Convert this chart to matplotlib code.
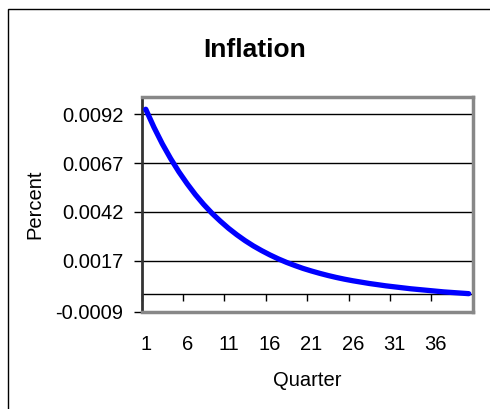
import matplotlib.pyplot as plt
from matplotlib.patches import Rectangle

plt.rcParams['font.family'] = ['Liberation Sans', 'DejaVu Sans']

# quarters 1..40 and inflation
quarters = list(range(1, 41))
inflation = [0.00945, 0.00852, 0.00768, 0.00693, 0.00625, 0.00564, 0.00508, 0.00458,
             0.00413, 0.00373, 0.00336, 0.00303, 0.00273, 0.00246, 0.00222, 0.00200,
             0.00180, 0.00162, 0.00146, 0.00131, 0.00118, 0.00106, 0.00095, 0.00085,
             0.00076, 0.00068, 0.00061, 0.00054, 0.00048, 0.00042, 0.00037, 0.00032,
             0.00027, 0.00023, 0.00019, 0.00015, 0.00011, 0.00008, 0.00005, 0.00002]

y_ticks = [-0.0009, 0.0017, 0.0042, 0.0067, 0.0092]
y_labels = ['-0.0009', '0.0017', '0.0042', '0.0067', '0.0092']
x_label_quarters = [1, 6, 11, 16, 21, 26, 31, 36]
y_min, y_max = -0.0009, 0.0101

fig = plt.figure(figsize=(4.9, 4.09), dpi=100)
ax = fig.add_axes([0.289, 0.238, 0.676, 0.526])

# outer chart frame, runs off the right and bottom edges
fig.patches.append(Rectangle((8.3 / 490, -0.1), 1.2, 1.1 - 9.3 / 409,
                             transform=fig.transFigure, fill=False,
                             edgecolor='black', linewidth=1.0))

for v in y_ticks[1:]:
    ax.axhline(v, color='black', linewidth=1.0, zorder=1)

ax.plot(quarters, inflation, color='#0000ff', linewidth=3.8, solid_capstyle='round', zorder=3)

ax.set_xlim(0.5, 40.5)
ax.set_ylim(y_min, y_max)

ax.set_yticks(y_ticks)
ax.set_yticklabels(y_labels)
ax.set_xticks(x_label_quarters)
ax.set_xticklabels([str(q) for q in x_label_quarters])
ax.tick_params(axis='y', direction='out', length=6, width=1, pad=7, labelsize=14.5)
ax.tick_params(axis='x', length=0, pad=17, labelsize=14.5)

for side in ['top', 'right', 'bottom']:
    ax.spines[side].set_color('#888888')
    ax.spines[side].set_linewidth(2.5)
ax.spines['left'].set_color('#333333')
ax.spines['left'].set_linewidth(2.0)

# category axis crossing at zero with tick marks between categories
zero_pos = (0 - y_min) / (y_max - y_min)
secax = ax.secondary_xaxis(zero_pos)
secax.set_xticks([0.5 + 5 * k for k in range(9)])
secax.tick_params(direction='out', length=5, width=1, labelbottom=False, color='black')
secax.spines['bottom'].set_color('black')
secax.spines['bottom'].set_linewidth(1.0)

ax.set_ylabel('Percent', fontsize=14.5, va='center', ha='center')
ax.yaxis.set_label_coords(-0.322, 0.5)
ax.set_xlabel('Quarter', fontsize=14.5, va='center', ha='center')
ax.xaxis.set_label_coords(0.4995, -0.318)

fig.text(255 / 490, 1 - 50 / 409, 'Inflation', ha='center', va='center',
         fontsize=19, fontweight='bold')

fig.savefig('out.png', dpi=100)
